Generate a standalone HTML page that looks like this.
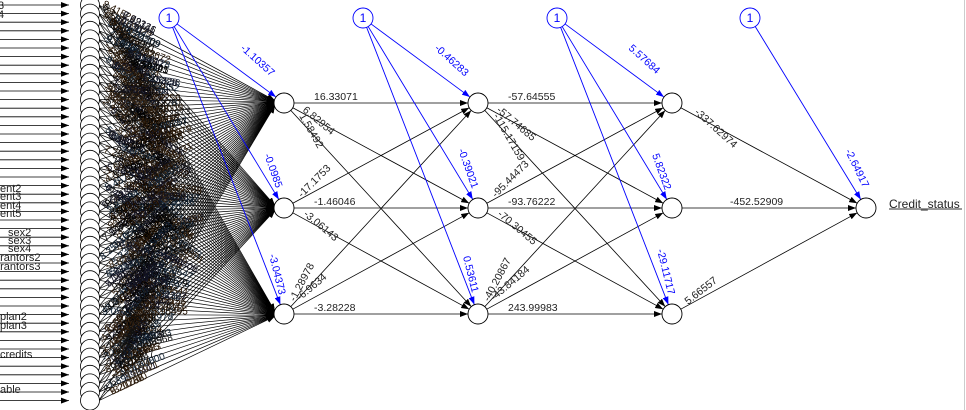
<!DOCTYPE html>
<html><head><meta charset="utf-8"><style>
html,body{margin:0;padding:0;background:#fff;width:966px;height:410px;overflow:hidden}
svg{display:block;font-family:"Liberation Sans",sans-serif}
</style></head><body>
<svg id="s" width="966" height="410" viewBox="0 0 966 410" xmlns="http://www.w3.org/2000/svg">
<defs>
<marker id="ak" markerWidth="8" markerHeight="6" refX="8" refY="3" orient="auto" markerUnits="userSpaceOnUse"><path d="M0,0 L8,3 L0,6 z" fill="#000"/></marker>
<marker id="ab" markerWidth="8" markerHeight="6" refX="8" refY="3" orient="auto" markerUnits="userSpaceOnUse"><path d="M0,0 L8,3 L0,6 z" fill="#00f"/></marker>
</defs>
<g id="dense"></g>
<g id="main"></g>
<g font-size="11" fill="#222">
<text x="0" y="192">ent2</text><text x="0" y="200">ent3</text><text x="0" y="209">ent4</text><text x="0" y="217">ent5</text>
<text x="8" y="236">sex2</text><text x="8" y="244">sex3</text><text x="8" y="252">sex4</text>
<text x="-6" y="261">arantors2</text><text x="-6" y="270">arantors3</text>
<text x="0" y="320">plan2</text><text x="0" y="329">plan3</text>
<text x="0" y="358">credits</text><text x="0" y="393">able</text>
<text x="-2" y="9">3</text><text x="-2" y="18">4</text>
<text x="889" y="208" font-size="12">Credit_status</text>
</g>
<line x1="889" y1="209" x2="962" y2="209" stroke="#333" stroke-width="1"/>
<line x1="964.5" y1="0" x2="964.5" y2="410" stroke="#ccc"/>
</svg>
<script>
var NS="http://www.w3.org/2000/svg";
function el(p,t,a,txt){var e=document.createElementNS(NS,t);for(var k in a)e.setAttribute(k,a[k]);if(txt!=null)e.textContent=txt;p.appendChild(e);return e;}
var D=document.getElementById('dense'),M=document.getElementById('main');
var R=10;
var H1=[[284,103],[284,208],[284,314]],H2=[[478,103],[478,208],[478,314]],H3=[[672,103],[672,208],[672,314]],O=[866,208];
var B=[[169,18],[363,18],[557,18],[750,18]];
function edge(a,b,blue,par){var dx=b[0]-a[0],dy=b[1]-a[1],L=Math.hypot(dx,dy),ux=dx/L,uy=dy/L;
 el(par||M,'line',{x1:a[0]+ux*R,y1:a[1]+uy*R,x2:b[0]-ux*R,y2:b[1]-uy*R,stroke:blue?'#00f':'#000','stroke-width':blue?0.9:0.8,'marker-end':blue?'url(#ab)':'url(#ak)'});}
function lab(x,y,ang,t,blue){el(M,'text',{x:x,y:y,'font-size':10.5,fill:blue?'#00f':'#222',transform:'rotate('+ang+' '+x+' '+y+')'},t);}
var N=47,ys=[];for(var i=0;i<N;i++)ys.push(5+i*8.6);
var seed=7;function rnd(){seed=(seed*16807)%2147483647;return seed/2147483647;}
ys.forEach(function(y){
 el(D,'line',{x1:0,y1:y,x2:69,y2:y,stroke:'#000','stroke-width':0.8,'marker-end':'url(#ak)'});
});
ys.forEach(function(y){
 H1.forEach(function(h){el(D,'line',{x1:99,y1:y,x2:h[0]-R+1,y2:h[1]+(y-208)*0.012,stroke:'#000','stroke-width':0.7,'marker-end':'url(#ak)'});});
});
var cols=['#111','#221100','#112','#321','#123','#000'];
for(var pass=0;pass<3;pass++){
ys.forEach(function(y){
 H1.forEach(function(h){var w=1-Math.abs(y-208)/330;var f=0.01+rnd()*0.38*w;var x=100+(h[0]-100)*f,yy=y+(h[1]-y)*f;
  var ang=Math.atan2(h[1]-y,h[0]-100)*180/Math.PI;var v=((rnd()-0.5)*20).toFixed(5);
  el(D,'text',{x:x,y:yy,'font-size':10,fill:cols[Math.floor(rnd()*6)],transform:'rotate('+ang+' '+x+' '+yy+')'},v);});
});
}
ys.forEach(function(y){el(D,'circle',{cx:90,cy:y,r:9.5,fill:'#fff',stroke:'#000','stroke-width':0.8});});
[[H1,H2],[H2,H3]].forEach(function(p){p[0].forEach(function(a){p[1].forEach(function(b){edge(a,b);});});});
H3.forEach(function(a){edge(a,O);});
for(var k=0;k<3;k++){var L=[H1,H2,H3][k];L.forEach(function(n){edge(B[k],n,true);});}
edge(B[3],O,true);
H1.concat(H2,H3,[O]).forEach(function(n){el(M,'circle',{cx:n[0],cy:n[1],r:R,fill:'#fff',stroke:'#000','stroke-width':0.9});});
B.forEach(function(b){el(M,'circle',{cx:b[0],cy:b[1],r:R,fill:'#fff',stroke:'#00f','stroke-width':0.9});el(M,'text',{x:b[0],y:b[1]+4,'font-size':12,fill:'#00f','text-anchor':'middle'},'1');});
var off=[0,194];
off.forEach(function(o,j){
 var t=j==0?["16.33071","6.82954","1.58492","-17.1753","-1.46046","-3.06143","-1.28978","-6.9634","-3.28228"]:["-57.64555","-57.74685","-115.17159","-95.44473","-93.76222","-70.30455","-40.20867","-43.84184","243.99983"];
 lab(314+o,100,0,t[0]);lab(302+o,111,40,t[1]);lab(299+o,116,60,t[2]);
 lab(302+o,198,-45,t[3]);lab(314+o,205,0,t[4]);lab(303+o,215,40,t[5]);
 lab(295+o,302,-62,t[6]);lab(300+o,301,-40,t[7]);lab(314+o,311,0,t[8]);
});
lab(694,113,42,"-337.62974");lab(730,205,0,"-452.52909");lab(688,305,-38,"5.66557");
lab(240,49,42,"-1.10357",true);lab(264,155,70,"-0.0985",true);lab(269,255,76,"-3.04373",true);
lab(434,49,42,"-0.46283",true);lab(458,150,70,"-0.39021",true);lab(463,257,76,"0.53611",true);
lab(628,49,42,"5.57684",true);lab(652,155,70,"5.82322",true);lab(657,250,76,"-29.11717",true);
lab(845,151,64,"-2.64917",true);
</script>
</body></html>
